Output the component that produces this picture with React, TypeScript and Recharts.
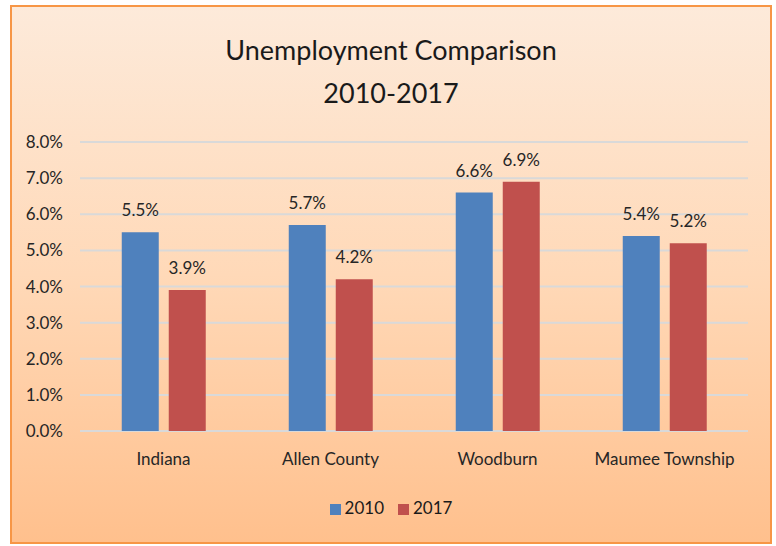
import { Bar, BarChart, CartesianGrid, LabelList, Legend, XAxis, YAxis } from 'recharts';

const places = ['Indiana', 'Allen County', 'Woodburn', 'Maumee Township'];
const rate2010 = [5.5, 5.7, 6.6, 5.4];
const rate2017 = [3.9, 4.2, 6.9, 5.2];
const yTicks = [0, 1, 2, 3, 4, 5, 6, 7, 8];

const data = places.map((name, i) => ({
  name,
  y2010: rate2010[i],
  y2017: rate2017[i],
}));

const font = 'Lato, "Open Sans", sans-serif';
const pct = (v: number) => `${v.toFixed(1)}%`;

export default function App() {
  return (
    <div style={{ position: 'absolute', left: 0, top: 0, width: 776, height: 546, background: '#fff' }}>
      <div
        style={{
          position: 'absolute',
          left: 10,
          top: 5,
          width: 758,
          height: 535,
          border: '2px solid #F79646',
          background: 'linear-gradient(to bottom, #FDEADA 0%, #FFD9B8 50%, #FFC08D 100%)',
          fontFamily: font,
        }}
      >
        <div
          style={{
            position: 'absolute',
            left: 0,
            right: 0,
            top: 21,
            textAlign: 'center',
            fontSize: 27,
            lineHeight: '43px',
            color: '#1a1a1a',
          }}
        >
          Unemployment Comparison
          <br />
          2010-2017
        </div>
        <BarChart
          width={758}
          height={535}
          data={data}
          margin={{ top: 135, right: 22, left: 0, bottom: 50 }}
          barCategoryGap="25%"
          barGap={10}
        >
          <CartesianGrid vertical={false} stroke="#D9D9D9" strokeWidth={2} />
          <XAxis
            dataKey="name"
            axisLine={false}
            tickLine={false}
            tickSize={0}
            tickMargin={22}
            height={40}
            tick={{ fill: '#262626', fontSize: 17, fontFamily: font }}
          />
          <YAxis
            width={68}
            domain={[0, 8]}
            ticks={yTicks}
            interval={0}
            tickFormatter={pct}
            axisLine={false}
            tickLine={false}
            tickSize={0}
            tickMargin={17}
            tick={{ fill: '#262626', fontSize: 17, fontFamily: font }}
          />
          <Legend
            verticalAlign="bottom"
            align="center"
            iconType="square"
            iconSize={11}
            wrapperStyle={{ top: 490, left: 18, fontSize: 17, fontFamily: font, color: '#262626' }}
            formatter={(value) => <span style={{ color: '#1a1a1a', paddingRight: 4 }}>{value}</span>}
          />
          <Bar dataKey="y2010" name="2010" fill="#4F81BD" isAnimationActive={false}>
            <LabelList dataKey="y2010" position="top" offset={16} formatter={(v: number) => pct(v)} style={{ fill: '#262626', fontSize: 17, fontFamily: font }} />
          </Bar>
          <Bar dataKey="y2017" name="2017" fill="#C0504D" isAnimationActive={false}>
            <LabelList dataKey="y2017" position="top" offset={16} formatter={(v: number) => pct(v)} style={{ fill: '#262626', fontSize: 17, fontFamily: font }} />
          </Bar>
        </BarChart>
      </div>
    </div>
  );
}
